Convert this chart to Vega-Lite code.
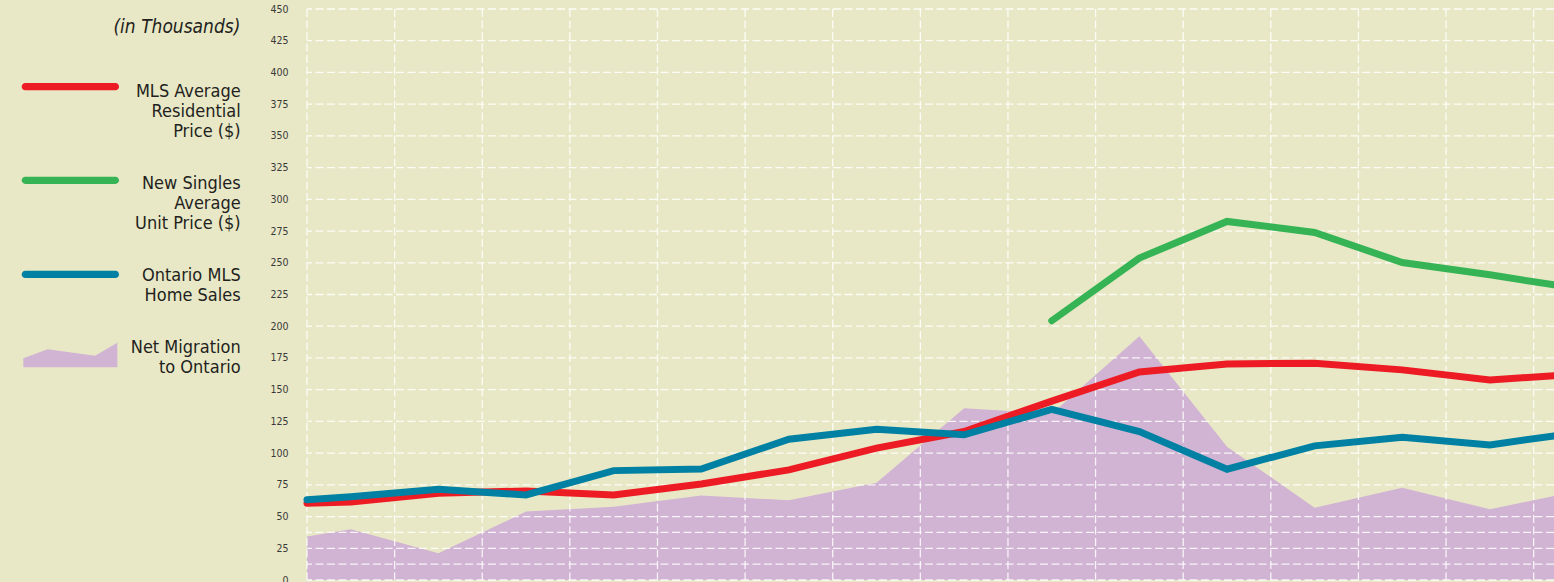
{
  "$schema": "https://vega.github.io/schema/vega-lite/v6.json",
  "autosize": {"type": "none"},
  "width": 1247,
  "height": 571,
  "padding": {"left": 307, "top": 9, "right": 0, "bottom": 2},
  "background": "#e8e8c6",
  "config": {
    "view": {"stroke": null},
    "font": "DejaVu Sans Condensed, Roboto, sans-serif"
  },
  "datasets": {
    "series": [
      {"u": 0, "series": "MLS Average Residential Price ($)", "v": 60.5},
      {"u": 0.5, "series": "MLS Average Residential Price ($)", "v": 61.5},
      {"u": 1.5, "series": "MLS Average Residential Price ($)", "v": 68.4},
      {"u": 2.5, "series": "MLS Average Residential Price ($)", "v": 70.2},
      {"u": 3.5, "series": "MLS Average Residential Price ($)", "v": 67},
      {"u": 4.5, "series": "MLS Average Residential Price ($)", "v": 75.7},
      {"u": 5.5, "series": "MLS Average Residential Price ($)", "v": 86.8},
      {"u": 6.5, "series": "MLS Average Residential Price ($)", "v": 103.9},
      {"u": 7.5, "series": "MLS Average Residential Price ($)", "v": 117},
      {"u": 8.5, "series": "MLS Average Residential Price ($)", "v": 141},
      {"u": 9.5, "series": "MLS Average Residential Price ($)", "v": 164},
      {"u": 10.5, "series": "MLS Average Residential Price ($)", "v": 170.3},
      {"u": 11.5, "series": "MLS Average Residential Price ($)", "v": 170.9},
      {"u": 12.5, "series": "MLS Average Residential Price ($)", "v": 165.6},
      {"u": 13.5, "series": "MLS Average Residential Price ($)", "v": 157.7},
      {"u": 14.232, "series": "MLS Average Residential Price ($)", "v": 160.9},
      {"u": 8.5, "series": "New Singles Average Unit Price ($)", "v": 204.3},
      {"u": 9.5, "series": "New Singles Average Unit Price ($)", "v": 253.7},
      {"u": 10.5, "series": "New Singles Average Unit Price ($)", "v": 282.6},
      {"u": 11.5, "series": "New Singles Average Unit Price ($)", "v": 273.9},
      {"u": 12.5, "series": "New Singles Average Unit Price ($)", "v": 250.2},
      {"u": 13.5, "series": "New Singles Average Unit Price ($)", "v": 240.5},
      {"u": 14.232, "series": "New Singles Average Unit Price ($)", "v": 232.6},
      {"u": 0, "series": "Ontario MLS Home Sales", "v": 63.3},
      {"u": 0.5, "series": "Ontario MLS Home Sales", "v": 65.7},
      {"u": 1.5, "series": "Ontario MLS Home Sales", "v": 71.5},
      {"u": 2.5, "series": "Ontario MLS Home Sales", "v": 67},
      {"u": 3.5, "series": "Ontario MLS Home Sales", "v": 86.2},
      {"u": 4.5, "series": "Ontario MLS Home Sales", "v": 87.4},
      {"u": 5.5, "series": "Ontario MLS Home Sales", "v": 111},
      {"u": 6.5, "series": "Ontario MLS Home Sales", "v": 118.8},
      {"u": 7.5, "series": "Ontario MLS Home Sales", "v": 114.4},
      {"u": 8.5, "series": "Ontario MLS Home Sales", "v": 134.5},
      {"u": 9.5, "series": "Ontario MLS Home Sales", "v": 117},
      {"u": 10.5, "series": "Ontario MLS Home Sales", "v": 87.3},
      {"u": 11.5, "series": "Ontario MLS Home Sales", "v": 105.7},
      {"u": 12.5, "series": "Ontario MLS Home Sales", "v": 112.5},
      {"u": 13.5, "series": "Ontario MLS Home Sales", "v": 106.5},
      {"u": 14.232, "series": "Ontario MLS Home Sales", "v": 113.6},
      {"u": 0, "series": "Net Migration to Ontario", "v": 34.2},
      {"u": 0.5, "series": "Net Migration to Ontario", "v": 40},
      {"u": 1.5, "series": "Net Migration to Ontario", "v": 21},
      {"u": 2.5, "series": "Net Migration to Ontario", "v": 53.9},
      {"u": 3.5, "series": "Net Migration to Ontario", "v": 57.8},
      {"u": 4.5, "series": "Net Migration to Ontario", "v": 66.5},
      {"u": 5.5, "series": "Net Migration to Ontario", "v": 62.8},
      {"u": 6.5, "series": "Net Migration to Ontario", "v": 76.7},
      {"u": 7.5, "series": "Net Migration to Ontario", "v": 135.4},
      {"u": 8.5, "series": "Net Migration to Ontario", "v": 131},
      {"u": 9.5, "series": "Net Migration to Ontario", "v": 192},
      {"u": 10.5, "series": "Net Migration to Ontario", "v": 105.1},
      {"u": 11.5, "series": "Net Migration to Ontario", "v": 57},
      {"u": 12.5, "series": "Net Migration to Ontario", "v": 72.8},
      {"u": 13.5, "series": "Net Migration to Ontario", "v": 55.7},
      {"u": 14.232, "series": "Net Migration to Ontario", "v": 66.2}
    ],
    "hgrid": [
      {"gy": 0}, {"gy": 12.5}, {"gy": 25}, {"gy": 37.5}, {"gy": 50}, {"gy": 75}, {"gy": 100}, {"gy": 125}, {"gy": 150}, {"gy": 175}, {"gy": 200}, {"gy": 225}, {"gy": 250}, {"gy": 275}, {"gy": 300}, {"gy": 325}, {"gy": 350}, {"gy": 375}, {"gy": 400}, {"gy": 425}, {"gy": 450}
    ],
    "vgrid": [
      {"gx": 0}, {"gx": 1}, {"gx": 2}, {"gx": 3}, {"gx": 4}, {"gx": 5}, {"gx": 6}, {"gx": 7}, {"gx": 8}, {"gx": 9}, {"gx": 10}, {"gx": 11}, {"gx": 12}, {"gx": 13}, {"gx": 14}
    ]
  },
  "layer": [
    {
      "data": {"name": "series"},
      "mark": {"type": "point", "filled": true, "opacity": 0, "size": 1},
      "encoding": {
        "x": {"field": "u", "type": "quantitative", "scale": {"domain": [0, 14.232], "nice": false, "zero": false}, "axis": null},
        "y": {"field": "v", "type": "quantitative", "scale": {"domain": [0, 450], "nice": false},
          "axis": {
            "values": [0, 25, 50, 75, 100, 125, 150, 175, 200, 225, 250, 275, 300, 325, 350, 375, 400, 425, 450],
            "grid": false, "domain": false, "ticks": false, "title": null,
            "labelPadding": 19, "labelFont": "DejaVu Sans Condensed, Roboto, sans-serif", "labelFontSize": 10.5,
            "labelColor": "#3a3a3a", "labelBaseline": "middle"
          }
        },
        "color": {
          "field": "series", "type": "nominal",
          "scale": {
            "domain": ["MLS Average Residential Price ($)", "New Singles Average Unit Price ($)", "Ontario MLS Home Sales", "Net Migration to Ontario"],
            "range": ["#ed1c24", "#36b455", "#0080a2", "#d1b3d3"]
          },
          "legend": {
            "title": "(in Thousands)",
            "orient": "none",
            "legendX": -284.65,
            "legendY": 9,
            "direction": "vertical",
            "padding": 0,
            "rowPadding": -7.3,
            "titleFont": "DejaVu Sans Condensed, Roboto, sans-serif",
            "titleFontSize": 19,
            "titleFontStyle": "italic",
            "titleFontWeight": "normal",
            "titleColor": "#231f20",
            "titleAnchor": "end",
            "titlePadding": 11.7,
            "titleLimit": 400,
            "labelFont": "DejaVu Sans Condensed, Roboto, sans-serif",
            "labelFontSize": 18,
            "labelColor": "#231f20",
            "labelAlign": "right",
            "labelBaseline": "alphabetic",
            "labelOffset": 122.35,
            "labelLimit": 400,
            "symbolSize": 9216,
            "symbolStrokeWidth": 0,
            "symbolOpacity": 1,
            "labelExpr": "datum.label === 'MLS Average Residential Price ($)' ? ['MLS Average', 'Residential\u00a0', 'Price ($)'] : datum.label === 'New Singles Average Unit Price ($)' ? ['New Singles', 'Average', 'Unit Price ($)'] : datum.label === 'Ontario MLS Home Sales' ? ['Ontario MLS', 'Home Sales'] : ['Net Migration', 'to Ontario']"
          }
        },
        "shape": {
          "field": "series", "type": "nominal",
          "scale": {
            "domain": ["MLS Average Residential Price ($)", "New Singles Average Unit Price ($)", "Ontario MLS Home Sales", "Net Migration to Ontario"],
            "range": [
              "M-0.9385,-0.283L0.9385,-0.283A0.075,0.075 0 0 1 0.9385,-0.133L-0.9385,-0.133A0.075,0.075 0 0 1 -0.9385,-0.283Z",
              "M-0.9385,-0.25L0.9385,-0.25A0.075,0.075 0 0 1 0.9385,-0.1L-0.9385,-0.1A0.075,0.075 0 0 1 -0.9385,-0.25Z",
              "M-0.9385,-0.206L0.9385,-0.206A0.075,0.075 0 0 1 0.9385,-0.056L-0.9385,-0.056A0.075,0.075 0 0 1 -0.9385,-0.206Z",
              "M-0.98,0.117L-0.471,-0.071L0.515,0.0625L0.979,-0.208L0.979,0.304L-0.98,0.304Z"
            ]
          },
          "legend": {
            "title": "(in Thousands)",
            "orient": "none",
            "legendX": -284.65,
            "legendY": 9,
            "direction": "vertical",
            "padding": 0,
            "rowPadding": -7.3,
            "titleFont": "DejaVu Sans Condensed, Roboto, sans-serif",
            "titleFontSize": 19,
            "titleFontStyle": "italic",
            "titleFontWeight": "normal",
            "titleColor": "#231f20",
            "titleAnchor": "end",
            "titlePadding": 11.7,
            "titleLimit": 400,
            "labelFont": "DejaVu Sans Condensed, Roboto, sans-serif",
            "labelFontSize": 18,
            "labelColor": "#231f20",
            "labelAlign": "right",
            "labelBaseline": "alphabetic",
            "labelOffset": 122.35,
            "labelLimit": 400,
            "symbolSize": 9216,
            "symbolStrokeWidth": 0,
            "symbolOpacity": 1,
            "labelExpr": "datum.label === 'MLS Average Residential Price ($)' ? ['MLS Average', 'Residential\u00a0', 'Price ($)'] : datum.label === 'New Singles Average Unit Price ($)' ? ['New Singles', 'Average', 'Unit Price ($)'] : datum.label === 'Ontario MLS Home Sales' ? ['Ontario MLS', 'Home Sales'] : ['Net Migration', 'to Ontario']"
          }
        }
      }
    },
    {
      "data": {"name": "series"},
      "transform": [{"filter": "datum.series === 'Net Migration to Ontario'"}],
      "mark": {"type": "area", "opacity": 1, "strokeWidth": 0},
      "encoding": {
        "x": {"field": "u", "type": "quantitative", "scale": {"domain": [0, 14.232], "nice": false, "zero": false}, "axis": null},
        "y": {"field": "v", "type": "quantitative", "scale": {"domain": [0, 450], "nice": false},
          "axis": {
            "values": [0, 25, 50, 75, 100, 125, 150, 175, 200, 225, 250, 275, 300, 325, 350, 375, 400, 425, 450],
            "grid": false, "domain": false, "ticks": false, "title": null,
            "labelPadding": 19, "labelFont": "DejaVu Sans Condensed, Roboto, sans-serif", "labelFontSize": 10.5,
            "labelColor": "#3a3a3a", "labelBaseline": "middle"
          }
        },
        "color": {"field": "series", "type": "nominal", "legend": null}
      }
    },
    {
      "data": {"name": "hgrid"},
      "mark": {"type": "rule", "color": "#ffffff", "strokeDash": [8, 3.5], "strokeWidth": 1.3, "opacity": 0.85},
      "encoding": {
        "y": {"field": "gy", "type": "quantitative", "scale": {"domain": [0, 450], "nice": false},
          "axis": {
            "values": [0, 25, 50, 75, 100, 125, 150, 175, 200, 225, 250, 275, 300, 325, 350, 375, 400, 425, 450],
            "grid": false, "domain": false, "ticks": false, "title": null,
            "labelPadding": 19, "labelFont": "DejaVu Sans Condensed, Roboto, sans-serif", "labelFontSize": 10.5,
            "labelColor": "#3a3a3a", "labelBaseline": "middle"
          }
        }
      }
    },
    {
      "data": {"name": "vgrid"},
      "mark": {"type": "rule", "color": "#ffffff", "strokeDash": [8, 3.5], "strokeWidth": 1.3, "opacity": 0.85},
      "encoding": {
        "x": {"field": "gx", "type": "quantitative", "scale": {"domain": [0, 14.232], "nice": false, "zero": false}, "axis": null}
      }
    },
    {
      "data": {"name": "series"},
      "transform": [{"filter": "datum.series === 'MLS Average Residential Price ($)'"}],
      "mark": {"type": "line", "strokeWidth": 7, "strokeCap": "round"},
      "encoding": {
        "x": {"field": "u", "type": "quantitative", "scale": {"domain": [0, 14.232], "nice": false, "zero": false}, "axis": null},
        "y": {"field": "v", "type": "quantitative", "scale": {"domain": [0, 450], "nice": false},
          "axis": {
            "values": [0, 25, 50, 75, 100, 125, 150, 175, 200, 225, 250, 275, 300, 325, 350, 375, 400, 425, 450],
            "grid": false, "domain": false, "ticks": false, "title": null,
            "labelPadding": 19, "labelFont": "DejaVu Sans Condensed, Roboto, sans-serif", "labelFontSize": 10.5,
            "labelColor": "#3a3a3a", "labelBaseline": "middle"
          }
        },
        "color": {"field": "series", "type": "nominal", "legend": null}
      }
    },
    {
      "data": {"name": "series"},
      "transform": [{"filter": "datum.series === 'New Singles Average Unit Price ($)'"}],
      "mark": {"type": "line", "strokeWidth": 7, "strokeCap": "round"},
      "encoding": {
        "x": {"field": "u", "type": "quantitative", "scale": {"domain": [0, 14.232], "nice": false, "zero": false}, "axis": null},
        "y": {"field": "v", "type": "quantitative", "scale": {"domain": [0, 450], "nice": false},
          "axis": {
            "values": [0, 25, 50, 75, 100, 125, 150, 175, 200, 225, 250, 275, 300, 325, 350, 375, 400, 425, 450],
            "grid": false, "domain": false, "ticks": false, "title": null,
            "labelPadding": 19, "labelFont": "DejaVu Sans Condensed, Roboto, sans-serif", "labelFontSize": 10.5,
            "labelColor": "#3a3a3a", "labelBaseline": "middle"
          }
        },
        "color": {"field": "series", "type": "nominal", "legend": null}
      }
    },
    {
      "data": {"name": "series"},
      "transform": [{"filter": "datum.series === 'Ontario MLS Home Sales'"}],
      "mark": {"type": "line", "strokeWidth": 7, "strokeCap": "round"},
      "encoding": {
        "x": {"field": "u", "type": "quantitative", "scale": {"domain": [0, 14.232], "nice": false, "zero": false}, "axis": null},
        "y": {"field": "v", "type": "quantitative", "scale": {"domain": [0, 450], "nice": false},
          "axis": {
            "values": [0, 25, 50, 75, 100, 125, 150, 175, 200, 225, 250, 275, 300, 325, 350, 375, 400, 425, 450],
            "grid": false, "domain": false, "ticks": false, "title": null,
            "labelPadding": 19, "labelFont": "DejaVu Sans Condensed, Roboto, sans-serif", "labelFontSize": 10.5,
            "labelColor": "#3a3a3a", "labelBaseline": "middle"
          }
        },
        "color": {"field": "series", "type": "nominal", "legend": null}
      }
    }
  ]
}
